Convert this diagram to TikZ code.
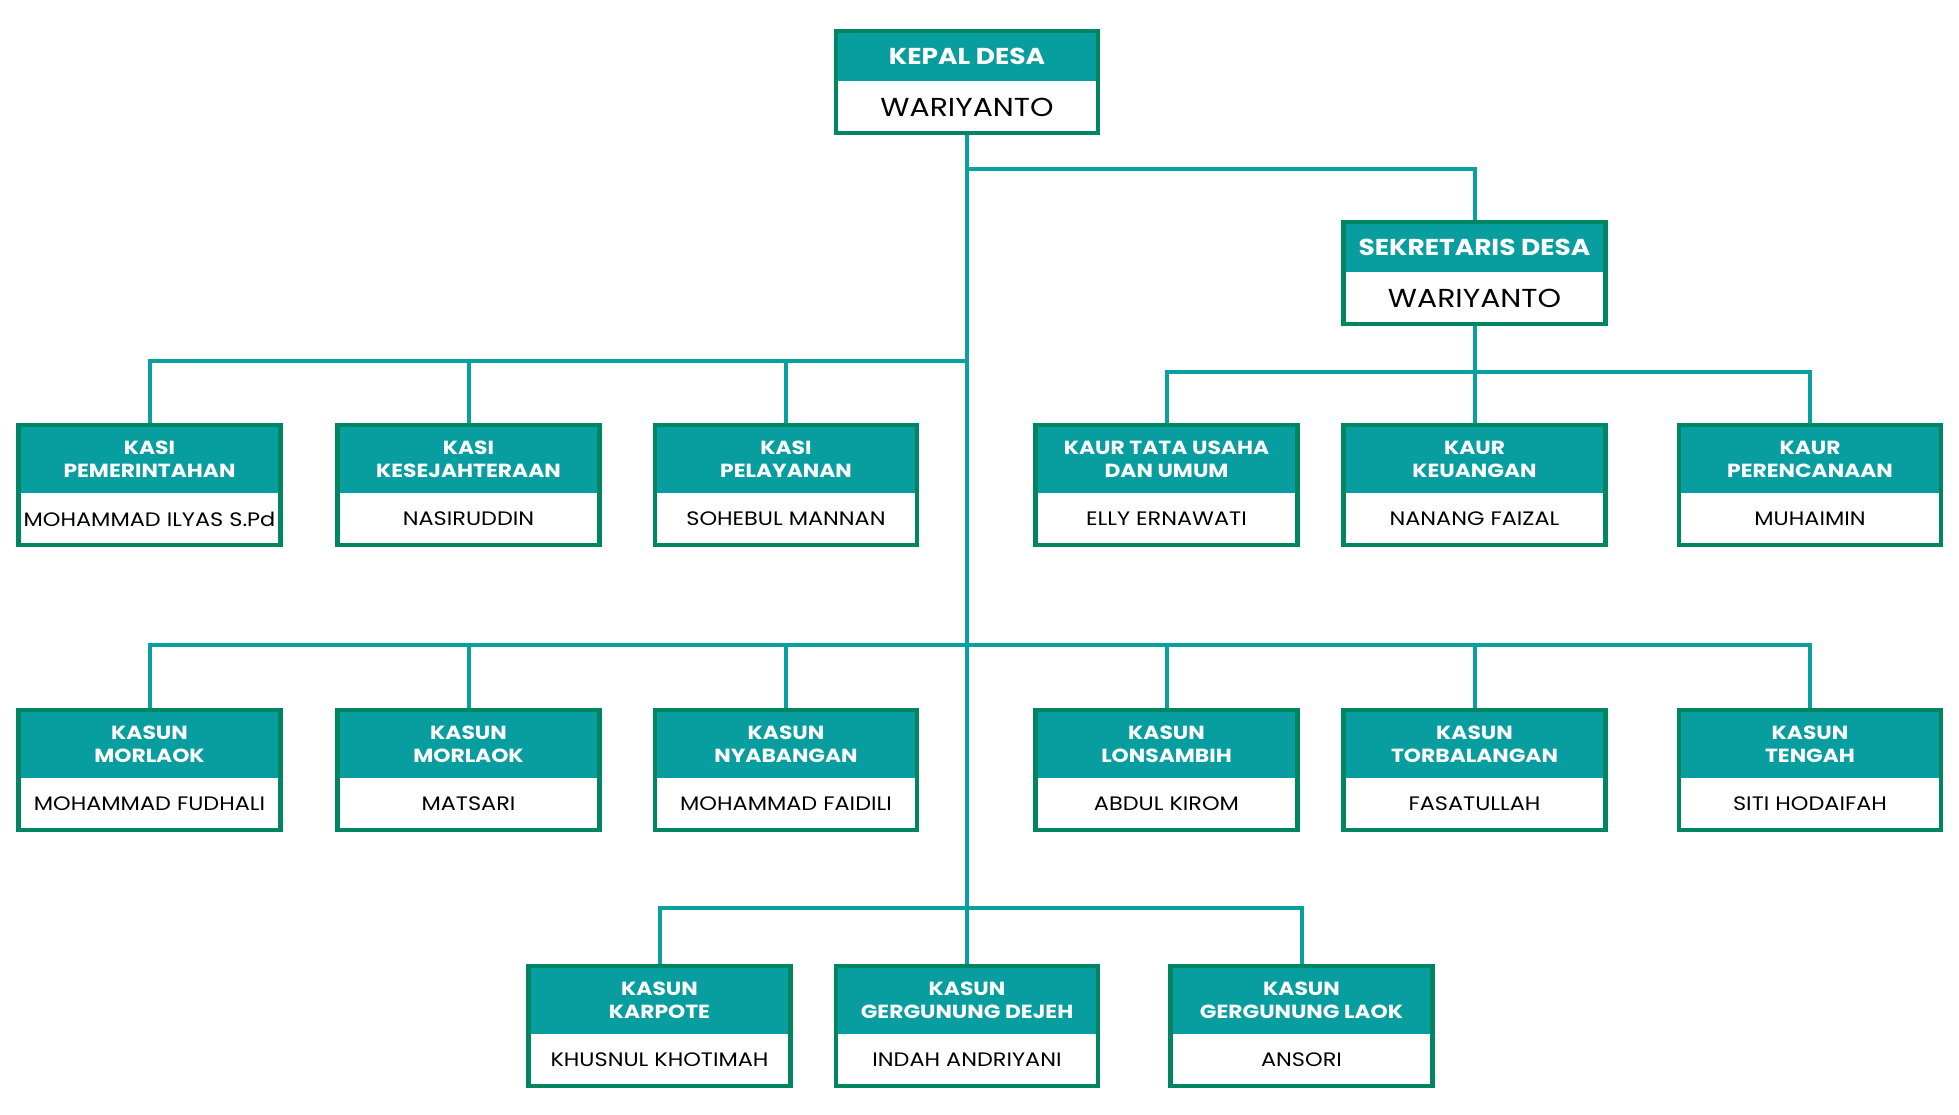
\documentclass[tikz,border=0pt]{standalone}
\usepackage{fontspec}
\setmainfont{Poppins}[FakeStretch=1.15]
\definecolor{tosca}{RGB}{8,158,160}
\definecolor{hijau}{RGB}{0,133,98}
\definecolor{garis}{RGB}{10,160,160}
\tikzset{
  jabatan/.style={fill=tosca, text=white, font=\bfseries\fontsize{19}{23}\selectfont, minimum width=262, minimum height=68, inner sep=0pt, align=center, anchor=north},
  nama/.style={fill=white, text=black, font=\fontsize{19.5}{24}\selectfont, minimum width=262, minimum height=51, inner sep=0pt, anchor=north},
  jabatanbesar/.style={jabatan, font=\bfseries\fontsize{23}{27}\selectfont, minimum height=50},
  namabesar/.style={nama, font=\fontsize{26}{30}\selectfont},
  bingkai/.style={draw=hijau, line width=4.5pt},
  sambung/.style={draw=garis, line width=4pt}
}
\begin{document}
\begin{tikzpicture}[x=1pt,y=-1pt]
\useasboundingbox (0,0) rectangle (1959,1115);
\node[jabatanbesar] (hid0) at (967,31){KEPAL DESA};
\node[namabesar] (nid0) at (hid0.south){WARIYANTO};
\node[jabatanbesar] (hid1) at (1474.5,222){SEKRETARIS DESA};
\node[namabesar] (nid1) at (hid1.south){WARIYANTO};
\node[jabatan] (hid2) at (149.5,425){KASI\\PEMERINTAHAN};
\node[nama] (nid2) at (hid2.south){MOHAMMAD ILYAS S.Pd};
\node[jabatan] (hid3) at (468.5,425){KASI\\KESEJAHTERAAN};
\node[nama] (nid3) at (hid3.south){NASIRUDDIN};
\node[jabatan] (hid4) at (786,425){KASI\\PELAYANAN};
\node[nama] (nid4) at (hid4.south){SOHEBUL MANNAN};
\node[jabatan] (hid5) at (1166.5,425){KAUR TATA USAHA\\DAN UMUM};
\node[nama] (nid5) at (hid5.south){ELLY ERNAWATI};
\node[jabatan] (hid6) at (1474.5,425){KAUR\\KEUANGAN};
\node[nama] (nid6) at (hid6.south){NANANG FAIZAL};
\node[jabatan] (hid7) at (1810,425){KAUR\\PERENCANAAN};
\node[nama] (nid7) at (hid7.south){MUHAIMIN};
\node[jabatan] (hid8) at (149.5,710){KASUN\\MORLAOK};
\node[nama] (nid8) at (hid8.south){MOHAMMAD FUDHALI};
\node[jabatan] (hid9) at (468.5,710){KASUN\\MORLAOK};
\node[nama] (nid9) at (hid9.south){MATSARI};
\node[jabatan] (hid10) at (786,710){KASUN\\NYABANGAN};
\node[nama] (nid10) at (hid10.south){MOHAMMAD FAIDILI};
\node[jabatan] (hid11) at (1166.5,710){KASUN\\LONSAMBIH};
\node[nama] (nid11) at (hid11.south){ABDUL KIROM};
\node[jabatan] (hid12) at (1474.5,710){KASUN\\TORBALANGAN};
\node[nama] (nid12) at (hid12.south){FASATULLAH};
\node[jabatan] (hid13) at (1810,710){KASUN\\TENGAH};
\node[nama] (nid13) at (hid13.south){SITI HODAIFAH};
\node[jabatan] (hid14) at (659.5,966){KASUN\\KARPOTE};
\node[nama] (nid14) at (hid14.south){KHUSNUL KHOTIMAH};
\node[jabatan] (hid15) at (967,966){KASUN\\GERGUNUNG DEJEH};
\node[nama] (nid15) at (hid15.south){INDAH ANDRIYANI};
\node[jabatan] (hid16) at (1301.5,966){KASUN\\GERGUNUNG LAOK};
\node[nama] (nid16) at (hid16.south){ANSORI};
\coordinate (cid0) at (967,169);
\coordinate (cid1) at (967,361);
\coordinate (cid2) at (1474.5,372);
\coordinate (cid3) at (967,645);
\coordinate (cid4) at (967,908);
\draw[sambung](nid0.south) -- (cid4);
\draw[sambung](cid0) -| (hid1.north);
\draw[sambung](hid2.north) |- (cid1);
\draw[sambung](hid3.north) |- (cid1);
\draw[sambung](hid4.north) |- (cid1);
\draw[sambung](nid1.south) -- (hid6.north);
\draw[sambung](hid5.north) |- (cid2);
\draw[sambung](cid2) -| (hid7.north);
\draw[sambung](hid8.north) |- (cid3);
\draw[sambung](hid9.north) |- (cid3);
\draw[sambung](hid10.north) |- (cid3);
\draw[sambung](cid3) -| (hid11.north);
\draw[sambung](cid3) -| (hid12.north);
\draw[sambung](cid3) -| (hid13.north);
\draw[sambung](hid14.north) |- (cid4);
\draw[sambung](cid4) -- (hid15.north);
\draw[sambung](cid4) -| (hid16.north);
\draw[bingkai](hid0.north west) rectangle (nid0.south east);
\draw[bingkai](hid1.north west) rectangle (nid1.south east);
\draw[bingkai](hid2.north west) rectangle (nid2.south east);
\draw[bingkai](hid3.north west) rectangle (nid3.south east);
\draw[bingkai](hid4.north west) rectangle (nid4.south east);
\draw[bingkai](hid5.north west) rectangle (nid5.south east);
\draw[bingkai](hid6.north west) rectangle (nid6.south east);
\draw[bingkai](hid7.north west) rectangle (nid7.south east);
\draw[bingkai](hid8.north west) rectangle (nid8.south east);
\draw[bingkai](hid9.north west) rectangle (nid9.south east);
\draw[bingkai](hid10.north west) rectangle (nid10.south east);
\draw[bingkai](hid11.north west) rectangle (nid11.south east);
\draw[bingkai](hid12.north west) rectangle (nid12.south east);
\draw[bingkai](hid13.north west) rectangle (nid13.south east);
\draw[bingkai](hid14.north west) rectangle (nid14.south east);
\draw[bingkai](hid15.north west) rectangle (nid15.south east);
\draw[bingkai](hid16.north west) rectangle (nid16.south east);
\end{tikzpicture}
\end{document}
